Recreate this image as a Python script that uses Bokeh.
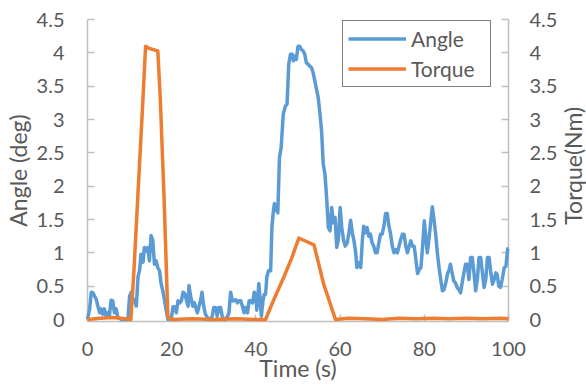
import math
from bokeh.plotting import figure
from bokeh.layouts import row
from bokeh.models import (Range1d, LinearAxis, FixedTicker, CustomJSTickFormatter,
                          Legend, LegendItem, Label)
from bokeh.embed import file_html
from bokeh.resources import INLINE

# ---------------- data ----------------
angle_time = [
    0, 0.5, 0.9, 1.3, 1.7, 2.1, 2.5, 2.9, 3.2, 3.6,
    4.0, 4.4, 4.8, 5.2, 5.6, 6.0, 6.4, 6.8, 7.2, 7.6,
    8.0, 8.5, 9.0, 9.6, 10.0, 10.4, 10.8, 11.2, 11.6, 12.0,
    12.4, 12.7, 13.0, 13.2, 13.5, 13.9, 14.3, 14.7, 15.1, 15.5,
    15.9, 16.3, 16.7, 17.1, 17.5, 17.9, 18.3, 18.7, 19.1, 19.5,
    19.9, 20.3, 20.7, 21.1, 21.5, 21.9, 22.3, 22.7, 23.1, 23.5,
    23.9, 24.1, 24.5, 25.0, 25.4, 25.7, 26.1, 26.5, 26.9, 27.2,
    27.6, 28.0, 28.4, 28.8, 29.2, 29.6, 30.0, 30.4, 30.8, 31.2,
    31.6, 32.0, 32.4, 32.8, 33.2, 33.6, 34.0, 34.4, 34.8, 35.2,
    35.6, 36.0, 36.4, 36.8, 37.2, 37.6, 38.0, 38.4, 38.8, 39.2,
    39.6, 40.0, 40.2, 40.7, 41.0, 41.3, 41.7, 42.0, 42.3, 42.6,
    43.0, 43.5, 43.8, 44.1, 44.4, 44.8, 45.2, 45.6, 46.0, 46.5,
    47.0, 47.4, 47.8, 48.2, 48.6, 48.9, 49.2, 49.6, 50.0, 50.4,
    50.8, 51.2, 51.6, 52.0, 52.4, 52.8, 53.2, 53.6, 54.0, 54.4,
    54.8, 55.2, 55.6, 56.0, 56.4, 56.8, 57.2, 57.6, 58.0, 58.4,
    58.8, 59.2, 59.6, 60.0, 60.4, 60.8, 61.2, 61.7, 62.1, 62.5,
    62.9, 63.3, 63.7, 64.0, 64.5, 64.9, 65.3, 65.6, 66.0, 66.4,
    66.8, 67.2, 67.6, 68.0, 68.4, 68.8, 69.2, 69.6, 70.0, 70.4,
    70.8, 71.2, 71.6, 72.0, 72.4, 72.8, 73.2, 73.6, 74.0, 74.4,
    74.8, 75.2, 75.6, 76.0, 76.4, 76.8, 77.2, 77.6, 78.0, 78.4,
    78.8, 79.2, 79.6, 80.0, 80.4, 80.7, 81.1, 81.5, 81.9, 82.3,
    82.7, 83.1, 83.5, 83.9, 84.3, 84.7, 85.1, 85.5, 85.9, 86.2,
    86.6, 87.0, 87.4, 87.8, 88.2, 88.6, 89.0, 89.4, 89.8, 90.2,
    90.6, 91.0, 91.4, 91.8, 92.2, 92.6, 93.0, 93.4, 93.8, 94.2,
    94.6, 95.0, 95.4, 95.8, 96.2, 96.6, 97.0, 97.3, 97.7, 98.1,
    98.5, 99.0, 99.4, 99.8, 100.0,
]
angle_deg = [
    0.00, 0.15, 0.41, 0.40, 0.35, 0.30, 0.19, 0.10, 0.16, 0.08,
    0.16, 0.06, 0.10, 0.05, 0.29, 0.28, 0.10, 0.16, 0.03, 0.02,
    0.00, 0.00, 0.00, 0.00, 0.35, 0.41, 0.30, 0.29, 0.20, 0.64,
    0.75, 0.98, 0.90, 0.86, 1.08, 1.03, 1.08, 0.88, 1.26, 1.19,
    0.83, 0.88, 0.78, 0.73, 0.53, 0.43, 0.29, 0.14, 0.00, 0.02,
    0.00, 0.19, 0.19, 0.10, 0.28, 0.25, 0.28, 0.41, 0.39, 0.29,
    0.20, 0.51, 0.35, 0.20, 0.25, 0.18, 0.10, 0.20, 0.30, 0.41,
    0.20, 0.08, 0.04, 0.00, 0.00, 0.05, 0.18, 0.18, 0.05, 0.18,
    0.18, 0.05, 0.00, 0.00, 0.04, 0.10, 0.41, 0.28, 0.28, 0.30,
    0.25, 0.28, 0.28, 0.20, 0.10, 0.18, 0.10, 0.28, 0.28, 0.25,
    0.41, 0.35, 0.14, 0.54, 0.30, 0.05, 0.30, 0.38, 0.38, 0.64,
    0.73, 0.73, 1.38, 1.60, 1.74, 1.65, 1.60, 2.43, 2.58, 3.08,
    3.20, 3.23, 3.83, 3.98, 3.98, 3.88, 3.95, 3.90, 4.10, 4.10,
    4.05, 4.03, 3.98, 3.85, 3.83, 3.80, 3.78, 3.70, 3.58, 3.45,
    3.33, 3.10, 2.83, 2.33, 2.18, 1.83, 1.38, 1.33, 1.68, 1.45,
    1.53, 1.08, 1.20, 1.68, 1.38, 1.20, 1.10, 1.15, 1.30, 1.49,
    1.30, 1.18, 1.00, 0.78, 0.85, 0.78, 1.20, 1.40, 1.30, 1.38,
    1.25, 1.28, 1.15, 1.10, 1.00, 1.00, 1.15, 1.28, 1.28, 1.40,
    1.59, 1.59, 1.40, 1.28, 1.10, 1.00, 1.05, 1.00, 1.10, 1.20,
    1.28, 1.28, 1.10, 1.00, 1.10, 1.18, 1.10, 1.10, 0.90, 0.69,
    0.75, 0.78, 1.10, 1.48, 1.20, 1.00, 1.20, 1.45, 1.69, 1.50,
    1.28, 1.00, 0.78, 0.60, 0.43, 0.45, 0.55, 0.68, 0.75, 0.83,
    0.70, 0.58, 0.55, 0.48, 0.45, 0.40, 0.55, 0.70, 0.83, 0.83,
    0.60, 0.93, 0.93, 0.70, 0.43, 0.60, 0.93, 0.93, 0.70, 0.48,
    0.60, 0.93, 0.93, 0.70, 0.53, 0.60, 0.70, 0.68, 0.50, 0.48,
    0.60, 0.78, 0.80, 1.06, 1.06,
]

torque_time = [0, 3, 6, 9, 10.3, 11.0, 12.0, 13.0, 13.8, 14.5,
               15.5, 16.7, 17.3, 18.2, 19.1, 20, 25, 30, 35, 40,
               42.3, 44.4, 46.6, 48.5, 50.2, 52.0, 53.8, 56.1, 58.9, 62,
               66, 70, 74, 78, 82, 86, 90, 94, 98, 100]
torque_nm = [0.00, 0.02, 0.03, 0.01, 0.00, 0.70, 1.90, 3.10, 4.10, 4.07,
             4.05, 4.03, 3.30, 1.80, 0.03, 0.00, 0.01, 0.00, 0.01, 0.00,
             0.00, 0.32, 0.63, 0.92, 1.22, 1.17, 1.12, 0.53, 0.00, 0.02,
             0.01, 0.00, 0.02, 0.01, 0.02, 0.01, 0.02, 0.01, 0.02, 0.01]

x_ticks = [0, 20, 40, 60, 80, 100]
y_ticks = [0, 0.5, 1, 1.5, 2, 2.5, 3, 3.5, 4, 4.5]

x_title = "Time (s)"
y_title = "Angle (deg)"
y2_title = "Torque(Nm)"
series_names = ["Angle", "Torque"]

# ---------------- styling ----------------
BLUE = "#5B9BD5"
ORANGE = "#ED7D31"
AXIS = "#BFBFBF"
TEXT = "#595959"
FONT = "Lato"

p = figure(width=560, height=386, output_backend="svg", toolbar_location=None,
           x_range=Range1d(0, 100), y_range=Range1d(-0.03, 4.5),
           x_axis_type=None, y_axis_type=None,
           min_border_left=87, min_border_right=52,
           min_border_top=19, min_border_bottom=65)
p.extra_y_ranges = {"torque": Range1d(-0.03, 4.5)}
p.outline_line_color = None
p.background_fill_color = "white"
p.border_fill_color = "white"

fmt = CustomJSTickFormatter(code="return String(parseFloat(tick.toFixed(1)));")

common = dict(axis_line_color=AXIS, axis_line_width=1.5,
              major_tick_line_color=AXIS, major_tick_line_width=1.5,
              major_tick_in=7, major_tick_out=0,
              minor_tick_line_color=None,
              major_label_text_font=FONT, major_label_text_font_size="20px",
              major_label_text_color=TEXT,
              axis_label_text_font=FONT, axis_label_text_font_size="23px",
              axis_label_text_color=TEXT, axis_label_text_font_style="normal")

xaxis = LinearAxis(ticker=FixedTicker(ticks=x_ticks), formatter=fmt,
                   axis_label=x_title, major_label_standoff=20,
                   axis_label_standoff=-5, **common)
p.add_layout(xaxis, "below")

yaxis = LinearAxis(ticker=FixedTicker(ticks=y_ticks), formatter=fmt,
                   axis_label=y_title, bounds=(0, 4.5),
                   major_label_standoff=23, axis_label_standoff=2, **common)
p.add_layout(yaxis, "left")

y2axis = LinearAxis(y_range_name="torque", ticker=FixedTicker(ticks=y_ticks),
                    formatter=fmt, bounds=(0, 4.5),
                    major_label_standoff=21, **common)
p.add_layout(y2axis, "right")

r_angle = p.line(angle_time, angle_deg, line_color=BLUE, line_width=3.5,
                 line_join="round", level="overlay")
r_torque = p.line(torque_time, torque_nm, line_color=ORANGE, line_width=3.5,
                  line_join="round", y_range_name="torque", level="overlay")

legend = Legend(items=[LegendItem(label=series_names[0], renderers=[r_angle]),
                       LegendItem(label=series_names[1], renderers=[r_torque])],
                location=(255, 234), margin=0, padding=5, spacing=5,
                glyph_width=58, glyph_height=25, label_height=25,
                label_width=74, label_standoff=5,
                label_text_font=FONT, label_text_font_size="21px",
                label_text_color=TEXT,
                border_line_color="black", border_line_width=1.5,
                background_fill_color="white", background_fill_alpha=1.0)
p.add_layout(legend, "center")

# narrow strip to the right holding the secondary-axis title (reads bottom-to-top)
p2 = figure(width=26, height=386, output_backend="svg", toolbar_location=None,
            x_range=Range1d(0, 26), y_range=Range1d(0, 386),
            x_axis_type=None, y_axis_type=None, min_border=0)
p2.outline_line_color = None
p2.background_fill_color = "white"
p2.border_fill_color = "white"
p2.add_layout(Label(x=12, y=199, text=y2_title, angle=math.pi / 2,
                    text_font=FONT, text_font_size="23px", text_color=TEXT,
                    text_align="center", text_baseline="middle"))

layout = row(p, p2, spacing=0)
open("out.html", "w").write(file_html(layout, INLINE))
